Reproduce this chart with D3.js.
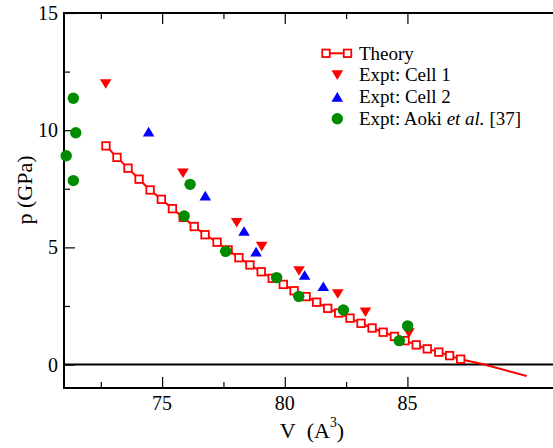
<!DOCTYPE html>
<html>
<head>
<meta charset="utf-8">
<script src="https://cdn.jsdelivr.net/npm/d3@7"></script>
<style>
  html, body { margin: 0; padding: 0; background: #fff; }
  svg { display: block; }
</style>
</head>
<body>
<svg id="chart" width="553" height="448"></svg>
<script>
// Theory equation of state (volume in A^3, pressure in GPa)
const theoryV = [72.71, 73.16, 73.61, 74.06, 74.51, 74.97, 75.42, 75.86, 76.31, 76.75,
                 77.24, 77.69, 78.13, 78.58, 79.04, 79.49, 79.94, 80.38, 80.87, 81.30,
                 81.75, 82.20, 82.66, 83.11, 83.56, 84.01, 84.47, 84.90, 85.36, 85.81,
                 86.28, 86.72, 87.17];
const theoryP = [9.33, 8.84, 8.38, 7.91, 7.45, 7.05, 6.65, 6.28, 5.89, 5.54,
                 5.22, 4.89, 4.56, 4.25, 3.96, 3.68, 3.42, 3.15, 2.90, 2.66,
                 2.40, 2.20, 1.98, 1.76, 1.56, 1.38, 1.20, 1.02, 0.84, 0.67,
                 0.53, 0.38, 0.23];
// Continuation of the fitted curve beyond the last computed volume
const theoryTailV = [88.09, 89.86];
const theoryTailP = [0.01, -0.49];

// Experiment, cell 1
const cell1V = [72.70, 75.85, 78.04, 79.06, 80.58, 82.16, 83.29, 85.06];
const cell1P = [11.97, 8.16, 6.05, 5.03, 3.99, 3.01, 2.23, 1.34];
// Experiment, cell 2
const cell2V = [74.45, 76.76, 78.34, 78.83, 80.81, 81.57];
const cell2P = [9.94, 7.21, 5.70, 4.82, 3.82, 3.34];
// Aoki et al. [37]
const aokiV = [71.38, 71.48, 71.09, 71.38, 76.14, 75.90, 77.59, 79.67, 80.57, 82.39, 84.67, 85.01];
const aokiP = [11.36, 9.89, 8.91, 7.85, 7.69, 6.34, 4.83, 3.71, 2.91, 2.33, 1.02, 1.65];

// Axis ticks
const xMajor = [75, 80, 85];
const xMinor = [72.5, 77.5, 82.5];
const yMajor = [0, 5, 10, 15];
const yMinor = [2.5, 7.5, 12.5];

const RED = "#ff0000", BLUE = "#0000ff", GREEN = "#008b00";
const FONT = '"Liberation Serif"';
const BASE = 24; // text is set at this size and scaled down to the wanted size

const svg = d3.select("#chart");
const x = d3.scaleLinear().domain([71, 91]).range([64, 554.6]);
const y = d3.scaleLinear().domain([-1, 15]).range([388, 13]);

const x0 = x.range()[0], x1 = x.range()[1];
const y0 = y.range()[0], y1 = y.range()[1];

// Serif label placed at (px, py), optionally rotated, drawn at BASE size and scaled
function label(parent, str, size, px, py, anchor, rot) {
  const k = size / BASE;
  return parent.append("text")
    .attr("font-family", FONT)
    .attr("font-size", BASE)
    .attr("text-anchor", anchor || "start")
    .attr("transform", `translate(${px},${py})${rot ? ` rotate(${rot})` : ""} scale(${k})`)
    .text(str);
}

// Tick marks (inward, mirrored on top); labels drawn separately
function styleAxis(g) {
  g.attr("font-family", null).attr("font-size", null);
  g.select(".domain").remove();
  g.selectAll(".tick text").remove();
  g.selectAll(".tick line").attr("stroke", "#000").attr("stroke-width", 1.2);
}
svg.append("g").attr("transform", `translate(0,${y0})`)
  .call(d3.axisBottom(x).tickValues(xMajor).tickSize(-11)).call(styleAxis);
svg.append("g").attr("transform", `translate(0,${y0})`)
  .call(d3.axisBottom(x).tickValues(xMinor).tickSize(-6)).call(styleAxis);
svg.append("g").attr("transform", `translate(0,${y1})`)
  .call(d3.axisTop(x).tickValues(xMajor).tickSize(-11)).call(styleAxis);
svg.append("g").attr("transform", `translate(0,${y1})`)
  .call(d3.axisTop(x).tickValues(xMinor).tickSize(-6)).call(styleAxis);
svg.append("g").attr("transform", `translate(${x0},0)`)
  .call(d3.axisLeft(y).tickValues(yMajor).tickSize(-11)).call(styleAxis);
svg.append("g").attr("transform", `translate(${x0},0)`)
  .call(d3.axisLeft(y).tickValues(yMinor).tickSize(-6)).call(styleAxis);

// Tick labels
xMajor.forEach(v => label(svg, String(v), 20, x(v), y0 + 22, "middle"));
yMajor.forEach(v => label(svg, String(v), 20, x0 - 6, y(v) + 7, "end"));

// Zero-pressure line
svg.append("line")
  .attr("x1", x0).attr("x2", x1).attr("y1", y(0)).attr("y2", y(0))
  .attr("stroke", "#000").attr("stroke-width", 2);

// Frame
svg.append("rect")
  .attr("x", x0).attr("y", y1).attr("width", x1 - x0).attr("height", y0 - y1)
  .attr("fill", "none").attr("stroke", "#000").attr("stroke-width", 2);

// Theory curve
const theoryPts = theoryV.map((v, i) => [v, theoryP[i]])
  .concat(theoryTailV.map((v, i) => [v, theoryTailP[i]]));
const line = d3.line().x(d => x(d[0])).y(d => y(d[1]));
svg.append("path").datum(theoryPts)
  .attr("d", line).attr("fill", "none").attr("stroke", RED).attr("stroke-width", 2);

const SQ = 7.5;
svg.append("g").selectAll("rect")
  .data(theoryV.map((v, i) => [v, theoryP[i]]))
  .join("rect")
  .attr("x", d => x(d[0]) - SQ / 2).attr("y", d => y(d[1]) - SQ / 2)
  .attr("width", SQ).attr("height", SQ)
  .attr("fill", "#fff").attr("stroke", RED).attr("stroke-width", 1.8);

// Marker shapes
const TW = 5.8, TH = 4.8;
const triDown = `M0,${TH}L${TW},${-TH}L${-TW},${-TH}Z`;
const triUp = `M0,${-TH}L${TW},${TH}L${-TW},${TH}Z`;

svg.append("g").selectAll("path")
  .data(cell1V.map((v, i) => [v, cell1P[i]]))
  .join("path")
  .attr("transform", d => `translate(${x(d[0])},${y(d[1])})`)
  .attr("d", triDown).attr("fill", RED);

svg.append("g").selectAll("path")
  .data(cell2V.map((v, i) => [v, cell2P[i]]))
  .join("path")
  .attr("transform", d => `translate(${x(d[0])},${y(d[1])})`)
  .attr("d", triUp).attr("fill", BLUE);

svg.append("g").selectAll("circle")
  .data(aokiV.map((v, i) => [v, aokiP[i]]))
  .join("circle")
  .attr("cx", d => x(d[0])).attr("cy", d => y(d[1])).attr("r", 5.7)
  .attr("fill", GREEN);

// Axis titles (font sizes and offsets below are in BASE units)
const xt = label(svg, "", 22, 312, 438, "middle");
xt.append("tspan").text("V\u00a0\u00a0(A");
xt.append("tspan").attr("dy", -12).attr("font-size", 15).text("3");
xt.append("tspan").attr("dy", 12).text(")");

label(svg, "p (GPa)", 22, 32, 190, "middle", -90);

// Legend
const lg = svg.append("g");
const lx = 337.3, tx = 359, rows = [53.3, 75.1, 96.9, 118.7];
lg.append("line").attr("x1", 323).attr("x2", 350.5).attr("y1", rows[0]).attr("y2", rows[0])
  .attr("stroke", RED).attr("stroke-width", 2);
[326, 347.5].forEach(cx => {
  lg.append("rect").attr("x", cx - SQ / 2).attr("y", rows[0] - SQ / 2)
    .attr("width", SQ).attr("height", SQ)
    .attr("fill", "#fff").attr("stroke", RED).attr("stroke-width", 1.8);
});
lg.append("path").attr("transform", `translate(${lx},${rows[1]})`).attr("d", triDown).attr("fill", RED);
lg.append("path").attr("transform", `translate(${lx},${rows[2]})`).attr("d", triUp).attr("fill", BLUE);
lg.append("circle").attr("cx", lx).attr("cy", rows[3]).attr("r", 5.7).attr("fill", GREEN);

["Theory", "Expt: Cell 1", "Expt: Cell 2"].forEach((s, i) => {
  label(lg, s, 19, tx, rows[i] + 6.3);
});
const aokiLabel = label(lg, "", 19, tx, rows[3] + 6.3);
aokiLabel.append("tspan").text("Expt: Aoki ");
aokiLabel.append("tspan").attr("font-style", "italic").text("et al.");
aokiLabel.append("tspan").text(" [37]");
</script>
</body>
</html>
